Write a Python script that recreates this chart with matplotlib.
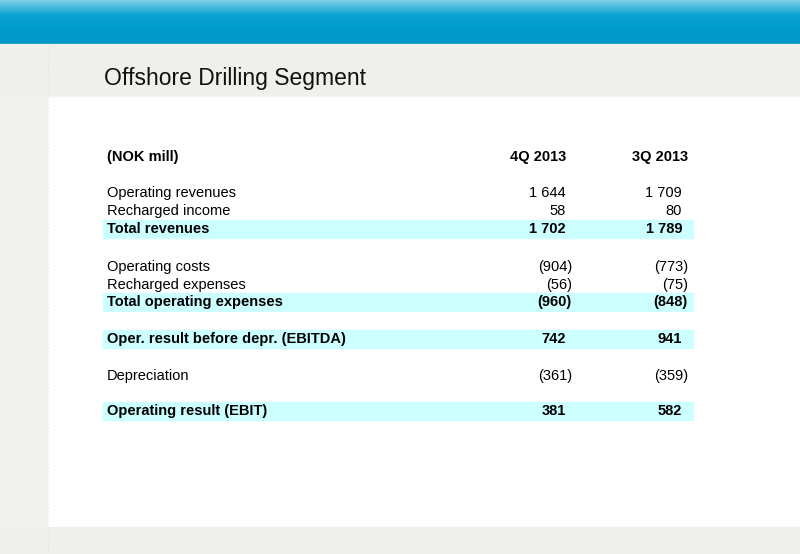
import matplotlib
matplotlib.use("Agg")
import matplotlib.pyplot as plt
import numpy as np
from matplotlib.patches import Rectangle

title = "Offshore Drilling Segment"
col_headers = ["4Q 2013", "3Q 2013"]
row_labels = ["Operating revenues", "Recharged income", "Total revenues",
              "Operating costs", "Recharged expenses", "Total operating expenses",
              "Oper. result before depr. (EBITDA)", "Depreciation", "Operating result (EBIT)"]
q4_values = ["1 644", "58", "1 702", "(904)", "(56)", "(960)", "742", "(361)", "381"]
q3_values = ["1 709", "80", "1 789", "(773)", "(75)", "(848)", "941", "(359)", "582"]
row_y = [193, 211, 229, 267, 285, 302, 339, 376, 411]
highlight = [False, False, True, False, False, True, True, False, True]

W, H = 800, 554
fig = plt.figure(figsize=(8, 5.54), dpi=100)
ax = fig.add_axes([0, 0, 1, 1])
ax.set_xlim(0, W); ax.set_ylim(H, 0); ax.axis("off")

# background
grad = np.linspace(0, 1, 100)[:, None]
from matplotlib.colors import LinearSegmentedColormap
cm = LinearSegmentedColormap.from_list("b", ["#7fd0ea", "#0aa3d2", "#009ccb", "#0096c6"])
ax.imshow(grad, extent=(0, W, 44, 0), cmap=cm, aspect="auto", zorder=0)
ax.add_patch(Rectangle((0, 44), W, 53, color="#efefeb", zorder=1))
ax.add_patch(Rectangle((0, 97), 48, 430, color="#f1f1ee", zorder=1))
ax.add_patch(Rectangle((48, 97), W - 48, 430, color="white", zorder=1))
ax.add_patch(Rectangle((0, 527), W, 27, color="#efefeb", zorder=1))
ax.plot([48, 48], [44, 554], color="#d8d8d4", lw=0.6, ls=(0, (1, 3)), zorder=2)

font = "Liberation Sans"
ax.text(104, 78, title, fontsize=16.5, family=font, va="center", ha="left", color="#111111", zorder=3)

ax.text(107, 157, "(NOK mill)", fontsize=10.5, weight="bold", family=font, va="center", zorder=3)
ax.text(566, 157, col_headers[0], fontsize=10.5, weight="bold", family=font, va="center", ha="right", zorder=3)
ax.text(688, 157, col_headers[1], fontsize=10.5, weight="bold", family=font, va="center", ha="right", zorder=3)

for lab, a, b, y, hl in zip(row_labels, q4_values, q3_values, row_y, highlight):
    w = "bold" if hl else "normal"
    if hl:
        ax.add_patch(Rectangle((103, y - 9), 590, 18, color="#ccffff", zorder=2))
    ax.text(107, y, lab, fontsize=10.5, weight=w, family=font, va="center", zorder=3)
    for v, xr in ((a, 566), (b, 682)):
        x = xr + 6 if v.startswith("(") else xr
        ax.text(x, y, v, fontsize=10.5, weight=w, family=font, va="center", ha="right", zorder=3)

fig.savefig("out.png", dpi=100)
